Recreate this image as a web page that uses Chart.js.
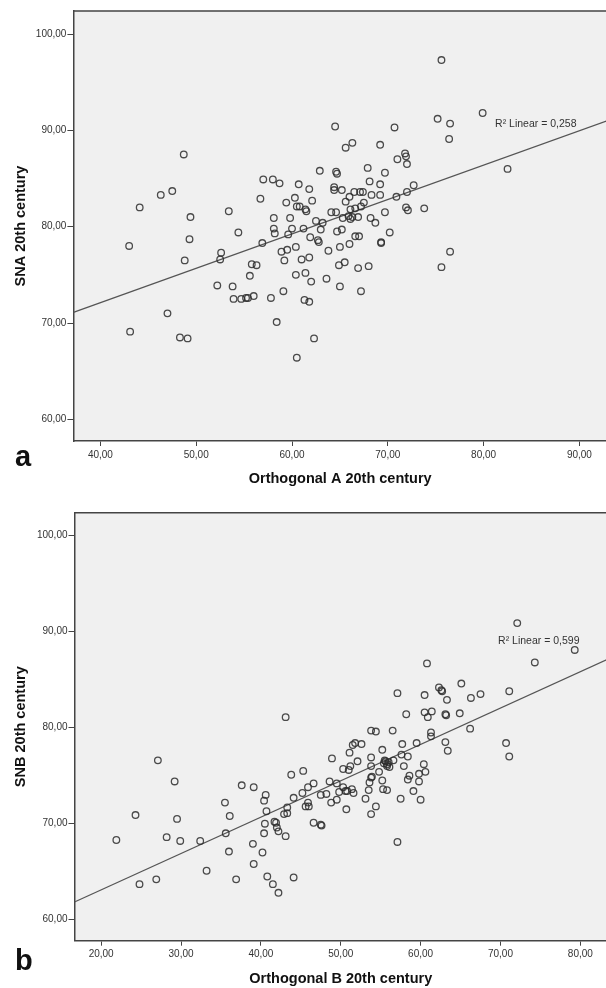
<!DOCTYPE html>
<html>
<head>
<meta charset="utf-8">
<script src="https://cdn.jsdelivr.net/npm/chart.js@4.4.1/dist/chart.umd.min.js"></script>
<style>
  html, body { margin: 0; padding: 0; background: #fff; overflow: hidden; }
  #wrap { position: relative; width: 606px; height: 988px; overflow: hidden; }
  canvas { position: absolute; left: 0; }
  #chartA { top: 0; }
  #chartB { top: 494px; }
</style>
</head>
<body>
<div id="wrap">
  <canvas id="chartA" width="620" height="494"></canvas>
  <canvas id="chartB" width="620" height="494"></canvas>
</div>
<script>
// panel a: Orthogonal A vs SNA
const orthoA = [75.6, 79.9, 75.2, 76.5, 76.4, 82.5, 64.5, 70.7, 48.7, 65.6,
  66.3, 69.2, 71.8, 71.9, 72.0, 71.0, 67.9, 69.7, 62.9, 64.6,
  64.7, 57.0, 58.0, 58.7, 60.7, 61.8, 64.4, 64.4, 65.2, 66.5,
  67.1, 67.4, 68.1, 69.2, 68.3, 69.2, 72.0, 72.7, 70.9, 47.5,
  46.3, 44.1, 49.4, 49.3, 43.0, 53.4, 54.4, 56.7, 59.4, 60.3,
  60.5, 60.8, 61.4, 61.5, 62.1, 58.1, 59.8, 58.1, 58.2, 60.0,
  59.6, 61.2, 61.9, 62.5, 63.0, 63.2, 64.1, 64.6, 65.6, 66.0,
  66.1, 66.6, 67.2, 67.5, 65.3, 65.9, 66.1, 66.3, 66.9, 68.2,
  68.7, 69.7, 71.9, 72.1, 73.8, 70.2, 69.3, 69.3, 64.7, 65.2,
  66.6, 67.0, 65.0, 66.0, 63.8, 62.7, 62.8, 60.4, 59.5, 58.9,
  56.9, 76.5, 52.6, 52.5, 48.8, 59.2, 61.0, 61.8, 75.6, 55.8,
  56.3, 55.6, 52.2, 53.8, 53.9, 54.7, 55.2, 55.4, 56.0, 57.8,
  59.1, 60.4, 61.4, 62.0, 63.6, 64.9, 65.5, 65.0, 66.9, 68.0,
  67.2, 61.3, 61.8, 47.0, 43.1, 48.3, 49.1, 58.4, 62.3, 60.5];
const snaA = [97.3, 91.8, 91.2, 90.7, 89.1, 86.0, 90.4, 90.3, 87.5, 88.2,
  88.7, 88.5, 87.6, 87.3, 86.5, 87.0, 86.1, 85.6, 85.8, 85.7,
  85.5, 84.9, 84.9, 84.5, 84.4, 83.9, 84.1, 83.8, 83.8, 83.6,
  83.6, 83.6, 84.7, 84.4, 83.3, 83.3, 83.6, 84.3, 83.1, 83.7,
  83.3, 82.0, 81.0, 78.7, 78.0, 81.6, 79.4, 82.9, 82.5, 83.0,
  82.1, 82.1, 81.8, 81.6, 82.7, 80.9, 80.9, 79.8, 79.3, 79.8,
  79.2, 79.8, 78.9, 80.6, 79.7, 80.4, 81.5, 81.5, 82.6, 83.1,
  81.8, 81.9, 82.1, 82.5, 80.9, 81.1, 80.8, 81.0, 81.0, 80.9,
  80.4, 81.5, 82.0, 81.7, 81.9, 79.4, 78.4, 78.3, 79.5, 79.7,
  79.0, 79.0, 77.9, 78.2, 77.5, 78.6, 78.4, 77.9, 77.6, 77.4,
  78.3, 77.4, 77.3, 76.6, 76.5, 76.5, 76.6, 76.8, 75.8, 76.1,
  76.0, 74.9, 73.9, 73.8, 72.5, 72.5, 72.6, 72.6, 72.8, 72.6,
  73.3, 75.0, 75.2, 74.3, 74.6, 76.0, 76.3, 73.8, 75.7, 75.9,
  73.3, 72.4, 72.2, 71.0, 69.1, 68.5, 68.4, 70.1, 68.4, 66.4];

// panel b: Orthogonal B vs SNB
const orthoB = [72.1, 79.3, 74.3, 60.8, 65.1, 71.1, 62.3, 62.6, 62.7, 57.1,
  60.5, 67.5, 66.3, 63.3, 58.2, 60.5, 61.4, 60.9, 63.1, 63.2,
  64.9, 66.2, 43.1, 53.8, 54.4, 56.5, 61.3, 61.3, 70.7, 71.1,
  63.4, 63.1, 27.1, 29.2, 24.3, 29.5, 21.9, 28.2, 29.9, 32.4,
  35.6, 35.5, 36.1, 36.0, 33.2, 24.8, 26.9, 36.9, 37.6, 39.1,
  39.0, 39.1, 40.2, 40.8, 41.5, 42.2, 44.1, 40.4, 40.6, 40.7,
  40.5, 40.4, 41.7, 41.9, 42.0, 42.2, 43.1, 42.9, 43.3, 43.3,
  43.8, 44.1, 45.3, 45.2, 45.9, 46.6, 45.6, 46.0, 45.9, 46.6,
  47.5, 47.6, 47.5, 48.2, 48.6, 48.8, 48.9, 49.5, 49.8, 49.5,
  50.3, 50.3, 50.6, 50.8, 50.7, 51.0, 51.2, 51.1, 51.4, 51.6,
  52.1, 51.5, 51.8, 52.6, 53.1, 53.5, 53.6, 53.8, 53.9, 53.8,
  54.4, 53.8, 53.8, 54.8, 55.2, 55.2, 55.3, 55.8, 55.4, 55.6,
  55.8, 56.0, 55.8, 55.5, 56.1, 56.6, 57.1, 57.5, 57.6, 57.7,
  57.9, 58.4, 58.4, 58.6, 59.1, 59.5, 59.8, 59.8, 60.0, 60.4, 60.6];
const snbB = [90.9, 88.1, 86.8, 86.7, 84.6, 83.8, 84.2, 83.9, 83.8, 83.6,
  83.4, 83.5, 83.1, 82.9, 81.4, 81.6, 81.7, 81.1, 81.4, 81.3,
  81.5, 79.9, 81.1, 79.7, 79.6, 79.7, 79.5, 79.1, 78.4, 77.0,
  77.6, 78.5, 76.6, 74.4, 70.9, 70.5, 68.3, 68.6, 68.2, 68.2,
  69.0, 72.2, 70.8, 67.1, 65.1, 63.7, 64.2, 64.2, 74.0, 73.8,
  67.9, 65.8, 67.0, 64.5, 63.7, 62.8, 64.4, 72.4, 73.0, 71.3,
  70.0, 69.0, 70.2, 70.1, 69.6, 69.2, 68.7, 71.0, 71.7, 71.1,
  75.1, 72.7, 75.5, 73.2, 73.8, 74.2, 71.8, 71.8, 72.2, 70.1,
  69.9, 69.8, 73.0, 73.1, 74.4, 72.2, 76.8, 74.2, 73.3, 72.5,
  75.7, 73.8, 73.4, 73.4, 71.5, 75.6, 76.0, 77.4, 73.6, 73.2,
  76.5, 78.2, 78.4, 78.3, 72.6, 73.5, 74.3, 74.8, 74.9, 71.0,
  71.8, 76.9, 76.0, 75.4, 77.7, 74.5, 73.6, 73.5, 76.3, 76.5,
  76.2, 76.4, 76.0, 76.6, 75.9, 76.6, 68.1, 72.6, 77.2, 78.3,
  76.0, 77.0, 74.6, 75.0, 73.4, 78.4, 74.4, 75.2, 72.5, 76.2, 75.4];

const yTicks = [60, 70, 80, 90, 100];
const xTicksA = [40, 50, 60, 70, 80, 90];
const xTicksB = [20, 30, 40, 50, 60, 70, 80];

function fit(xs, ys) {
  const n = xs.length;
  const mx = xs.reduce((a, b) => a + b, 0) / n;
  const my = ys.reduce((a, b) => a + b, 0) / n;
  let sxy = 0, sxx = 0;
  for (let i = 0; i < n; i++) {
    sxy += (xs[i] - mx) * (ys[i] - my);
    sxx += (xs[i] - mx) * (xs[i] - mx);
  }
  const b = sxy / sxx;
  return { a: my - b * mx, b: b };
}

const fmt = v => v.toFixed(2).replace('.', ',');
const ink = '#444';
const fam = '"Liberation Sans", Arial, sans-serif';

const framePlugin = {
  id: 'frame',
  beforeDraw(chart) {
    const c = chart.ctx, a = chart.chartArea;
    c.save();
    c.fillStyle = '#f0f0f0';
    c.fillRect(a.left, a.top, a.right - a.left, a.bottom - a.top);
    c.restore();
  },
  afterDraw(chart) {
    const c = chart.ctx, a = chart.chartArea, o = chart.options.plugins.frame;
    c.save();
    c.strokeStyle = ink;
    c.lineWidth = 1.5;
    c.beginPath();
    c.moveTo(a.left, a.top);
    c.lineTo(a.right, a.top);
    c.lineTo(a.right, a.bottom);
    c.stroke();
    c.fillStyle = '#111';
    c.font = 'bold 14.5px ' + fam;
    c.textAlign = 'center';
    c.textBaseline = 'middle';
    c.fillText(o.xTitle, (a.left + a.right) / 2, o.xTitleY);
    c.translate(21, (a.top + a.bottom) / 2);
    c.rotate(-Math.PI / 2);
    c.fillText(o.yTitle, 0, 0);
    c.restore();
    c.save();
    c.fillStyle = '#111';
    c.font = 'bold 29px ' + fam;
    c.textBaseline = 'alphabetic';
    c.fillText(o.letter, 15, o.letterY);
    const xs = chart.scales.x, ys = chart.scales.y;
    c.fillStyle = '#333';
    c.font = '10.5px ' + fam;
    c.textBaseline = 'middle';
    c.fillText(o.label, xs.getPixelForValue(o.labelAt[0]), ys.getPixelForValue(o.labelAt[1]));
    c.restore();
  }
};

function makeChart(id, xs, ys, opt) {
  const pts = xs.map((x, i) => ({ x: x, y: ys[i] }));
  const f = fit(xs, ys);
  const line = [
    { x: opt.xMin, y: f.a + f.b * opt.xMin },
    { x: opt.xMax, y: f.a + f.b * opt.xMax }
  ];
  return new Chart(document.getElementById(id), {
    type: 'scatter',
    data: {
      datasets: [{
        data: pts,
        pointStyle: 'circle',
        pointRadius: 3.3,
        borderWidth: 1.3,
        borderColor: 'rgba(45,45,45,0.85)',
        backgroundColor: 'rgba(0,0,0,0)'
      }, {
        type: 'line',
        data: line,
        showLine: true,
        pointRadius: 0,
        borderColor: '#555',
        borderWidth: 1.3,
        fill: false
      }]
    },
    options: {
      responsive: false,
      animation: false,
      layout: { padding: { top: opt.top, right: 13, left: 0, bottom: 0 } },
      plugins: {
        legend: { display: false },
        tooltip: { enabled: false },
        frame: opt.frame
      },
      scales: {
        x: {
          type: 'linear', min: opt.xMin, max: opt.xMax,
          afterFit: s => { s.height = opt.xAxisH; },
          afterBuildTicks: s => { s.ticks = opt.xTicks.map(v => ({ value: v })); },
          ticks: { callback: fmt, color: '#333', padding: 3, maxRotation: 0,
            font: { size: 10, family: fam } },
          grid: { drawOnChartArea: false, tickLength: 5, color: ink, lineWidth: 1 },
          border: { color: ink, width: 1.5 }
        },
        y: {
          type: 'linear', min: opt.yMin, max: opt.yMax,
          afterFit: s => { s.width = opt.yAxisW; },
          afterBuildTicks: s => { s.ticks = yTicks.map(v => ({ value: v })); },
          ticks: { callback: fmt, color: '#333', padding: 1,
            font: { size: 10, family: fam } },
          grid: { drawOnChartArea: false, tickLength: 6, color: ink, lineWidth: 1 },
          border: { color: ink, width: 1.5 }
        }
      }
    },
    plugins: [framePlugin]
  });
}

makeChart('chartA', orthoA, snaA, {
  xMin: 37.18, xMax: 92.88, yMin: 57.75, yMax: 102.39,
  top: 11, xAxisH: 53, yAxisW: 73.4, xTicks: xTicksA,
  frame: { xTitle: 'Orthogonal A 20th century', yTitle: 'SNA 20th century',
    xTitleY: 479, letter: 'a', letterY: 466, label: 'R\u00B2 Linear = 0,258', labelAt: [81.2, 90.65] }
});

makeChart('chartB', orthoB, snbB, {
  xMin: 16.66, xMax: 83.34, yMin: 57.81, yMax: 102.4,
  top: 18.7, xAxisH: 47.3, yAxisW: 74.5, xTicks: xTicksB,
  frame: { xTitle: 'Orthogonal B 20th century', yTitle: 'SNB 20th century',
    xTitleY: 485, letter: 'b', letterY: 476, label: 'R\u00B2 Linear = 0,599', labelAt: [69.7, 89.06] }
});
</script>
</body>
</html>
